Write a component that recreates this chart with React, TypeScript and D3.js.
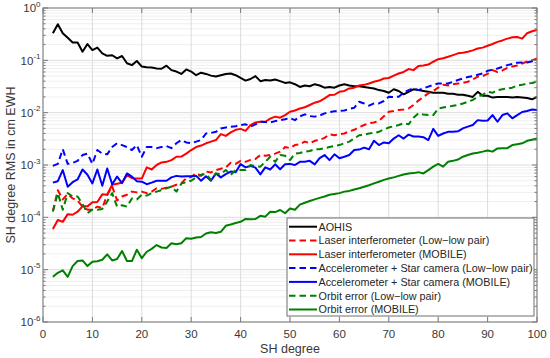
import React from "react";
import * as d3 from "d3";

// SH degrees 2..100
const degrees = d3.range(2, 101);

const xTicks = [0, 10, 20, 30, 40, 50, 60, 70, 80, 90, 100];
const yExponents = [-6, -5, -4, -3, -2, -1, 0];

const aohis = [
  0.33, 0.49, 0.33, 0.27, 0.22, 0.22, 0.146, 0.205,
  0.157, 0.175, 0.136, 0.122, 0.125, 0.109, 0.121, 0.088, 0.081, 0.097,
  0.076, 0.074, 0.073, 0.07, 0.069, 0.079, 0.065, 0.061, 0.055, 0.067,
  0.061, 0.052, 0.058, 0.055, 0.051, 0.049, 0.052, 0.055, 0.056, 0.052,
  0.046, 0.041, 0.044, 0.05, 0.04, 0.042, 0.041, 0.043, 0.04, 0.037,
  0.038, 0.035, 0.031, 0.033, 0.032, 0.035, 0.033, 0.03, 0.031, 0.03,
  0.033, 0.035, 0.033, 0.032, 0.032, 0.031, 0.03, 0.029, 0.027, 0.026,
  0.024, 0.028, 0.026, 0.0224, 0.025, 0.028, 0.027, 0.026, 0.025, 0.024,
  0.024, 0.024, 0.023, 0.023, 0.022, 0.022, 0.021, 0.02, 0.025, 0.021,
  0.021, 0.0194, 0.02, 0.02, 0.02, 0.0195, 0.02, 0.0195, 0.019, 0.018,
  0.02,
];

const laserLowLow = [
  1.3e-4, 3.3e-4, 2.2e-4, 2.8e-4, 2.3e-4, 2.1e-4, 1.6e-4, 1.4e-4,
  1.4e-4, 1.6e-4, 1.5e-4, 2.7e-4, 3.9e-4, 2.1e-4, 2.5e-4, 2.7e-4, 3.1e-4, 3.0e-4,
  3.1e-4, 2.9e-4, 3.1e-4, 3.6e-4, 3.5e-4, 3.7e-4, 3.85e-4, 4.2e-4, 4.5e-4, 5.6e-4,
  5.9e-4, 7.0e-4, 6.2e-4, 7.5e-4, 7.2e-4, 8.0e-4, 8.5e-4, 9.0e-4, 1.1e-3, 1.05e-3,
  1.2e-3, 1.15e-3, 1.25e-3, 1.3e-3, 1.55e-3, 1.5e-3, 1.55e-3, 1.65e-3, 1.8e-3, 2.2e-3,
  2.1e-3, 2.4e-3, 2.5e-3, 2.8e-3, 2.6e-3, 2.9e-3, 3.0e-3, 3.3e-3, 3.85e-3, 3.7e-3,
  3.9e-3, 4.0e-3, 4.4e-3, 4.7e-3, 5.3e-3, 5.8e-3, 6.3e-3, 6.5e-3, 7.0e-3, 8.5e-3,
  0.0104, 0.0108, 0.0113, 0.0115, 0.012, 0.014, 0.017, 0.02, 0.0234, 0.026,
  0.03, 0.034, 0.033, 0.035, 0.036, 0.037, 0.039, 0.043, 0.049, 0.05,
  0.055, 0.065, 0.06, 0.064, 0.072, 0.076, 0.08, 0.087, 0.095, 0.1,
  0.109,
];

const laserMobile = [
  6.0e-5, 8.9e-5, 8.2e-5, 1.15e-4, 1.12e-4, 1.28e-4, 1.62e-4, 1.62e-4,
  1.95e-4, 1.97e-4, 2.75e-4, 2.7e-4, 4.2e-4, 4.4e-4, 4.6e-4, 6.4e-4, 5.6e-4, 5.5e-4,
  5.5e-4, 9.0e-4, 8.2e-4, 1.0e-3, 1.12e-3, 1.15e-3, 1.24e-3, 1.44e-3, 1.45e-3, 1.65e-3,
  1.93e-3, 2.2e-3, 2.35e-3, 2.6e-3, 2.8e-3, 3.0e-3, 3.9e-3, 3.6e-3, 4.2e-3, 4.7e-3,
  4.9e-3, 4.5e-3, 5.8e-3, 6.5e-3, 6.7e-3, 6.7e-3, 7.7e-3, 8.4e-3, 8.0e-3, 9.0e-3,
  0.0104, 0.011, 0.012, 0.0127, 0.014, 0.0155, 0.0165, 0.0187, 0.0217, 0.022,
  0.025, 0.026, 0.029, 0.03, 0.033, 0.034, 0.036, 0.039, 0.041, 0.045,
  0.046, 0.051, 0.056, 0.06, 0.068, 0.065, 0.078, 0.08, 0.083, 0.094,
  0.105, 0.11, 0.117, 0.126, 0.136, 0.14, 0.146, 0.155, 0.168, 0.175,
  0.19, 0.205, 0.225, 0.24, 0.26, 0.275, 0.28, 0.26, 0.33, 0.36,
  0.38,
];

const accLowLow = [
  9.6e-4, 1.05e-3, 2.0e-3, 1.05e-3, 1.1e-3, 1.2e-3, 1.55e-3, 1.65e-3,
  1.05e-3, 1.93e-3, 1.65e-3, 1.6e-3, 2.2e-3, 2.6e-3, 2.4e-3, 2.2e-3, 1.93e-3, 2.4e-3,
  1.44e-3, 2.2e-3, 2.2e-3, 2.1e-3, 2.2e-3, 2.3e-3, 2.1e-3, 2.6e-3, 3.0e-3, 2.7e-3,
  2.6e-3, 2.8e-3, 3.0e-3, 4.0e-3, 4.1e-3, 4.3e-3, 5.0e-3, 5.2e-3, 5.4e-3, 5.5e-3,
  5.8e-3, 6.0e-3, 5.4e-3, 6.0e-3, 6.7e-3, 6.6e-3, 6.5e-3, 6.9e-3, 7.2e-3, 7.5e-3,
  7.9e-3, 7.2e-3, 8.5e-3, 9.3e-3, 8.6e-3, 8.4e-3, 8.8e-3, 9.7e-3, 0.0102, 0.0106,
  0.0108, 0.011, 0.0118, 0.0124, 0.0162, 0.015, 0.0136, 0.015, 0.015, 0.0167,
  0.0202, 0.02, 0.0202, 0.024, 0.027, 0.029, 0.027, 0.029, 0.0315, 0.034,
  0.036, 0.036, 0.036, 0.039, 0.042, 0.045, 0.048, 0.05, 0.053, 0.056,
  0.063, 0.066, 0.07, 0.075, 0.081, 0.085, 0.09, 0.091, 0.091, 0.096,
  0.1,
];

const accMobile = [
  4.6e-4, 4.9e-4, 8.0e-4, 3.85e-4, 4.7e-4, 5.3e-4, 8.2e-4, 6.5e-4,
  4.45e-4, 8.2e-4, 4.0e-4, 8.6e-4, 4.3e-4, 6.0e-4, 4.5e-4, 6.9e-4, 6.0e-4, 4.9e-4,
  4.8e-4, 4.3e-4, 4.6e-4, 5.0e-4, 5.0e-4, 5.0e-4, 5.8e-4, 6.2e-4, 6.0e-4, 6.1e-4,
  6.1e-4, 6.2e-4, 5.0e-4, 6.1e-4, 5.0e-4, 6.9e-4, 5.8e-4, 6.7e-4, 7.5e-4, 7.3e-4,
  1.04e-3, 9.0e-4, 9.6e-4, 8.9e-4, 6.6e-4, 9.0e-4, 8.2e-4, 1.03e-3, 8.3e-4, 1.03e-3,
  1.05e-3, 1.0e-3, 1.15e-3, 1.15e-3, 1.2e-3, 1.03e-3, 1.35e-3, 1.55e-3, 1.24e-3, 1.6e-3,
  1.35e-3, 1.44e-3, 1.55e-3, 1.93e-3, 1.97e-3, 2.15e-3, 2.0e-3, 2.9e-3, 2.4e-3, 2.7e-3,
  2.6e-3, 3.2e-3, 3.7e-3, 3.2e-3, 3.8e-3, 3.5e-3, 3.5e-3, 3.4e-3, 3.0e-3, 4.9e-3,
  3.6e-3, 4.0e-3, 4.3e-3, 4.3e-3, 4.4e-3, 5.0e-3, 5.4e-3, 5.8e-3, 7.2e-3, 7.0e-3,
  7.1e-3, 9.0e-3, 6.7e-3, 9.0e-3, 9.7e-3, 7.8e-3, 9.0e-3, 0.0103, 0.0108, 0.0115,
  0.0112,
];

const orbitLowLow = [
  1.3e-4, 2.9e-4, 1.4e-4, 2.9e-4, 2.5e-4, 2.5e-4, 1.8e-4, 1.2e-4,
  1.4e-4, 1.4e-4, 1.45e-4, 2.0e-4, 2.9e-4, 1.6e-4, 1.7e-4, 1.6e-4, 2.3e-4, 2.2e-4,
  2.7e-4, 2.6e-4, 2.9e-4, 3.1e-4, 3.3e-4, 3.6e-4, 3.85e-4, 3.1e-4, 4.4e-4, 4.7e-4,
  5.0e-4, 5.8e-4, 6.5e-4, 6.7e-4, 5.2e-4, 6.9e-4, 6.7e-4, 8.0e-4, 6.5e-4, 8.0e-4,
  8.0e-4, 8.0e-4, 1.0e-3, 9.5e-4, 9.3e-4, 1.15e-3, 1.44e-3, 1.15e-3, 1.55e-3, 1.5e-3,
  1.24e-3, 1.65e-3, 1.7e-3, 1.8e-3, 1.85e-3, 2.0e-3, 2.0e-3, 2.1e-3, 2.2e-3, 2.3e-3,
  2.4e-3, 2.6e-3, 2.8e-3, 3.2e-3, 3.7e-3, 3.8e-3, 4.0e-3, 4.1e-3, 4.3e-3, 4.8e-3,
  5.2e-3, 5.5e-3, 5.8e-3, 6.3e-3, 6.0e-3, 8.0e-3, 9.7e-3, 9.2e-3, 9.0e-3, 9.0e-3,
  0.012, 0.0125, 0.013, 0.0135, 0.014, 0.015, 0.0162, 0.0175, 0.02, 0.022,
  0.025, 0.024, 0.027, 0.028, 0.029, 0.03, 0.033, 0.034, 0.036, 0.037,
  0.039,
];

const orbitMobile = [
  7.3e-6, 8.7e-6, 9.7e-6, 7.3e-6, 1.17e-5, 1.46e-5, 1.5e-5, 1.17e-5,
  1.42e-5, 1.45e-5, 1.55e-5, 1.96e-5, 1.5e-5, 1.6e-5, 2.27e-5, 1.46e-5, 1.46e-5, 2.4e-5,
  1.66e-5, 2.2e-5, 2.5e-5, 2.95e-5, 2.65e-5, 2.6e-5, 3.2e-5, 3.05e-5, 3.2e-5, 4.0e-5,
  3.9e-5, 4.1e-5, 4.2e-5, 4.9e-5, 5.2e-5, 5.0e-5, 5.3e-5, 6.9e-5, 7.3e-5, 7.8e-5,
  8.2e-5, 9.3e-5, 9.2e-5, 9.3e-5, 1.07e-4, 1.03e-4, 1.28e-4, 1.26e-4, 1.38e-4, 1.2e-4,
  1.48e-4, 1.4e-4, 1.75e-4, 1.9e-4, 2.05e-4, 2.2e-4, 2.35e-4, 2.5e-4, 2.7e-4, 2.8e-4,
  2.9e-4, 3.1e-4, 3.2e-4, 3.4e-4, 3.6e-4, 3.85e-4, 4.1e-4, 4.45e-4, 4.8e-4, 5.2e-4,
  5.5e-4, 5.8e-4, 6.2e-4, 6.6e-4, 6.9e-4, 7.0e-4, 7.3e-4, 6.9e-4, 8.0e-4, 9.3e-4,
  1.05e-3, 9.3e-4, 1.15e-3, 1.2e-3, 1.27e-3, 1.44e-3, 1.55e-3, 1.66e-3, 1.72e-3, 1.8e-3,
  1.9e-3, 1.8e-3, 2.07e-3, 2.1e-3, 2.1e-3, 2.4e-3, 2.5e-3, 2.6e-3, 2.9e-3, 3.05e-3,
  3.2e-3,
];

const series = [
  { name: "AOHIS", values: aohis, color: "#000000", dashed: false },
  { name: "Laser interferometer (Low\u2212low pair)", values: laserLowLow, color: "#ff0000", dashed: true },
  { name: "Laser interferometer (MOBILE)", values: laserMobile, color: "#ff0000", dashed: false },
  { name: "Accelerometer + Star camera (Low\u2212low pair)", values: accLowLow, color: "#0000ff", dashed: true },
  { name: "Accelerometer + Star camera (MOBILE)", values: accMobile, color: "#0000ff", dashed: false },
  { name: "Orbit error (Low\u2212low pair)", values: orbitLowLow, color: "#008000", dashed: true },
  { name: "Orbit error (MOBILE)", values: orbitMobile, color: "#008000", dashed: false },
];

const width = 550;
const height = 358;
const left = 43;
const right = 537;
const top = 8;
const bottom = 322;

const font = "Helvetica, Arial, 'Liberation Sans', sans-serif";
const textColor = "#383838";
const axisColor = "#7a7a7a";
const lineW = 2;

export default function App() {
  const x = d3.scaleLinear().domain([0, 100]).range([left, right]);
  const y = d3.scaleLog().domain([1e-6, 1]).range([bottom, top]);

  const minorY: number[] = [];
  yExponents.slice(0, -1).forEach((e) => {
    for (let k = 2; k <= 9; k++) minorY.push(k * Math.pow(10, e));
  });

  const line = d3
    .line<number>()
    .x((_, i) => x(degrees[i]))
    .y((v) => y(v));

  const legX = 287;
  const legY = 218;
  const legW = 247;
  const legH = 98;
  const rowH = 13.8;

  return (
    <svg
      width={width}
      height={height}
      style={{ position: "absolute", left: 0, top: 0, background: "#fff" }}
      fontFamily={font}
    >
      <rect x={0} y={0} width={width} height={height} fill="#fff" />
      {/* minor grid */}
      {minorY.map((v) => (
        <line key={"mg" + v} x1={left} x2={right} y1={y(v)} y2={y(v)} stroke="#efefef" strokeWidth={1} />
      ))}
      {/* major grid */}
      {yExponents.map((e) => (
        <line key={"yg" + e} x1={left} x2={right} y1={y(Math.pow(10, e))} y2={y(Math.pow(10, e))} stroke="#dcdcdc" strokeWidth={1} />
      ))}
      {xTicks.map((t) => (
        <line key={"xg" + t} x1={x(t)} x2={x(t)} y1={top} y2={bottom} stroke="#dcdcdc" strokeWidth={1} />
      ))}

      {/* series */}
      <g fill="none" strokeLinejoin="round">
        {series.map((s) => (
          <path
            key={s.name}
            d={line(s.values) || ""}
            stroke={s.color}
            strokeWidth={lineW}
            strokeDasharray={s.dashed ? "6.5,4" : undefined}
          />
        ))}
      </g>

      {/* axes box and ticks */}
      <rect x={left} y={top} width={right - left} height={bottom - top} fill="none" stroke={axisColor} strokeWidth={1} />
      {xTicks.map((t) => (
        <g key={"xt" + t}>
          <line x1={x(t)} x2={x(t)} y1={bottom} y2={bottom - 5} stroke={axisColor} />
          <line x1={x(t)} x2={x(t)} y1={top} y2={top + 5} stroke={axisColor} />
          <text x={x(t)} y={337.5} textAnchor="middle" fontSize={11.5} fill={textColor}>
            {t}
          </text>
        </g>
      ))}
      {yExponents.map((e) => {
        const yy = y(Math.pow(10, e));
        return (
          <g key={"yt" + e}>
            <line x1={left} x2={left + 5} y1={yy} y2={yy} stroke={axisColor} />
            <line x1={right} x2={right - 5} y1={yy} y2={yy} stroke={axisColor} />
            <text x={40.5} y={yy + 4.2} textAnchor="end" fontSize={11.5} fill={textColor}>
              10
              <tspan fontSize={8} dy={-5.5}>
                {e < 0 ? "-" + Math.abs(e) : String(e)}
              </tspan>
            </text>
          </g>
        );
      })}
      {minorY.map((v) => (
        <g key={"mt" + v}>
          <line x1={left} x2={left + 2.5} y1={y(v)} y2={y(v)} stroke={axisColor} />
          <line x1={right} x2={right - 2.5} y1={y(v)} y2={y(v)} stroke={axisColor} />
        </g>
      ))}

      {/* axis labels */}
      <text x={290} y={353} textAnchor="middle" fontSize={12.5} fill={textColor}>
        SH degree
      </text>
      <text
        transform={`translate(15,${(top + bottom) / 2}) rotate(-90)`}
        textAnchor="middle"
        fontSize={12.5}
        fill={textColor}
      >
        SH degree RMS in cm EWH
      </text>

      {/* legend */}
      <rect x={legX} y={legY} width={legW} height={legH} fill="#fff" stroke="#6e6e6e" strokeWidth={1} />
      {series.map((s, i) => {
        const ly = legY + 8.7 + i * rowH;
        return (
          <g key={"lg" + s.name}>
            <line
              x1={legX + 2}
              x2={legX + 30}
              y1={ly}
              y2={ly}
              stroke={s.color}
              strokeWidth={lineW}
              strokeDasharray={s.dashed ? "6.5,4" : undefined}
            />
            <text x={legX + 31.5} y={ly + 3.9} fontSize={10.8} fill="#262626">
              {s.name}
            </text>
          </g>
        );
      })}
    </svg>
  );
}
